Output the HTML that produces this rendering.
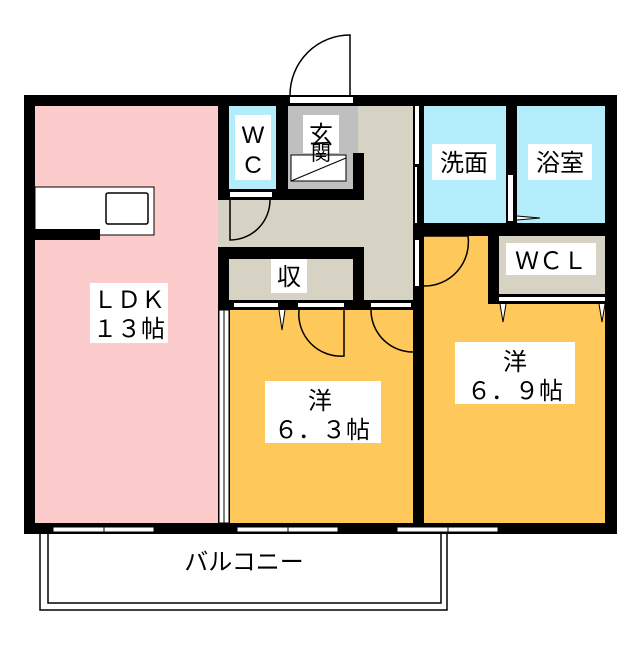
<!DOCTYPE html>
<html><head><meta charset="utf-8"><style>
body{margin:0;background:#fff}
svg text{font-family:"Liberation Sans","Noto Sans CJK JP",sans-serif;fill:#000}
</style></head><body>
<svg width="640" height="640" viewBox="0 0 640 640" xmlns="http://www.w3.org/2000/svg">
<rect width="640" height="640" fill="#fff"/>
<!-- outer black -->
<rect x="24" y="95" width="593" height="439" fill="#000"/>
<!-- LDK -->
<rect x="35" y="106" width="183" height="417" fill="#fccbcb"/>
<!-- WC -->
<rect x="229" y="106" width="47" height="83" fill="#b3ecfa"/>
<!-- hallway beige -->
<rect x="218" y="200" width="195" height="47" fill="#d6d3c5"/>
<rect x="358" y="106" width="55" height="194" fill="#d6d3c5"/>
<rect x="288" y="106" width="70" height="47" fill="#bfbfbf"/>
<rect x="288" y="153" width="65" height="36" fill="#bfbfbf"/>
<rect x="353" y="153" width="11" height="47" fill="#000"/>
<rect x="288" y="189" width="76" height="11" fill="#000"/>
<!-- storage -->
<rect x="229" y="259" width="124" height="41" fill="#d6d3c5"/>
<!-- room1 -->
<rect x="230" y="310" width="183" height="213" fill="#fec85a"/>
<!-- room2 -->
<rect x="424" y="236" width="181" height="287" fill="#fec85a"/>
<rect x="499" y="236" width="106" height="58" fill="#d6d3c5"/>
<rect x="488" y="236" width="11" height="68" fill="#000"/>
<rect x="488" y="294" width="117" height="10" fill="#000"/>
<rect x="499" y="297" width="106" height="4" fill="#fff"/>
<!-- wash & bath -->
<rect x="424" y="106" width="82" height="117" fill="#b3ecfa"/>
<rect x="517" y="106" width="88" height="117" fill="#b3ecfa"/>
<!-- kitchen counter -->
<rect x="35" y="187" width="119" height="48" fill="#fff" stroke="#000" stroke-width="1"/>
<rect x="106" y="193" width="42" height="31" rx="2" fill="#fff" stroke="#000" stroke-width="1.5"/>
<rect x="35" y="229" width="65" height="11" fill="#000"/>
<!-- LDK / room1 wall sliding -->
<rect x="219" y="310" width="10" height="213" fill="#fff" stroke="#000" stroke-width="1"/>
<line x1="224" y1="310" x2="224" y2="523" stroke="#000"/>
<!-- entrance door -->
<rect x="290" y="97" width="63" height="6" fill="#fff"/>
<path d="M290 95 A 60 60 0 0 1 350 35 L350 95" fill="none" stroke="#000" stroke-width="1.5"/>
<!-- genkan step -->
<rect x="291" y="155" width="55" height="26" fill="#fff" stroke="#000"/>
<line x1="291" y1="181" x2="346" y2="158" stroke="#000"/>
<!-- WC door -->
<rect x="230" y="192" width="42" height="5" fill="#fff"/>
<path d="M230 200 L230 240 A 40 40 0 0 0 270 200" fill="none" stroke="#000" stroke-width="1.5"/>
<!-- storage top wall -->
<rect x="218" y="247" width="146" height="12" fill="#000"/>
<rect x="218" y="247" width="11" height="63" fill="#000"/>
<rect x="353" y="247" width="11" height="63" fill="#000"/>
<rect x="218" y="300" width="206" height="10" fill="#000"/>
<rect x="234" y="303" width="44" height="4" fill="#fff"/>
<rect x="298" y="303" width="46" height="4" fill="#fff"/>
<rect x="371" y="303" width="40" height="4" fill="#fff"/>
<path d="M279 310 L282 330 L285 310" fill="#fff" stroke="#000"/>
<path d="M299 310 A 42 42 0 0 0 344 356 L344 310" fill="none" stroke="#000" stroke-width="1.5"/>
<path d="M371 310 A 42 42 0 0 0 413 352" fill="none" stroke="#000" stroke-width="1.5"/>
<!-- hallway / wash wall -->
<rect x="413" y="95" width="11" height="428" fill="#000"/>
<rect x="415" y="106" width="4" height="58" fill="#fff"/>
<rect x="415" y="167" width="2" height="56" fill="#fff"/>
<rect x="415" y="240" width="4" height="46" fill="#fff"/>
<path d="M424 236 L468 236 A 44 44 0 0 1 424 286" fill="none" stroke="#000" stroke-width="1.5"/>
<!-- wash/bath wall -->
<rect x="506" y="95" width="11" height="141" fill="#000"/>
<rect x="508" y="175" width="5" height="46" fill="#fff"/>
<path d="M517 216 L540 218 L517 220" fill="#fff" stroke="#000"/>
<rect x="413" y="223" width="204" height="13" fill="#000"/>
<path d="M500 304 L503 322 L506 304" fill="#fff" stroke="#000"/>
<path d="M599 304 L602 322 L605 304" fill="#fff" stroke="#000"/>
<!-- windows bottom -->
<g fill="#fff" stroke="#000" stroke-width="1">
<rect x="53" y="527" width="101" height="5"/>
<rect x="237" y="527" width="101" height="5"/>
<rect x="397" y="527" width="101" height="5"/>
</g>
<line x1="104" y1="525" x2="104" y2="534" stroke="#000"/>
<line x1="288" y1="525" x2="288" y2="534" stroke="#000"/>
<line x1="448" y1="525" x2="448" y2="534" stroke="#000"/>
<!-- balcony -->
<path d="M40 534 L40 610 L447 610 L447 534" fill="none" stroke="#000" stroke-width="1.5"/>
<path d="M48 534 L48 603 L441 603 L441 534" fill="none" stroke="#000" stroke-width="1.5"/>
<!-- labels -->
<g font-size="24" text-anchor="middle">
<rect x="235" y="115" width="36" height="65" fill="#fff"/>
<text x="253" y="143">W</text><text x="253" y="173">C</text>
<rect x="303" y="115" width="36" height="38" fill="#fff"/>
<text x="321" y="143">玄</text>
<text x="321" y="160" font-size="20">関</text>
<rect x="271" y="259" width="36" height="34" fill="#fff"/>
<text x="289" y="285">収</text>
<rect x="90" y="283" width="78" height="60" fill="#fff"/>
<text x="129" y="308">ＬＤＫ</text><text x="129" y="337">１３帖</text>
<rect x="265" y="381" width="116" height="62" fill="#fff"/>
<text x="320" y="409">洋</text><text x="322" y="438">６．３帖</text>
<rect x="455" y="342" width="120" height="62" fill="#fff"/>
<text x="515" y="370">洋</text><text x="515" y="399">６．９帖</text>
<rect x="432" y="144" width="64" height="36" fill="#fff"/>
<text x="464" y="171">洗面</text>
<rect x="528" y="144" width="64" height="36" fill="#fff"/>
<text x="560" y="171">浴室</text>
<rect x="506" y="243" width="90" height="32" fill="#fff"/>
<text x="551" y="269">ＷＣＬ</text>
<text x="244" y="570">バルコニー</text>
</g>
</svg>
</body></html>
